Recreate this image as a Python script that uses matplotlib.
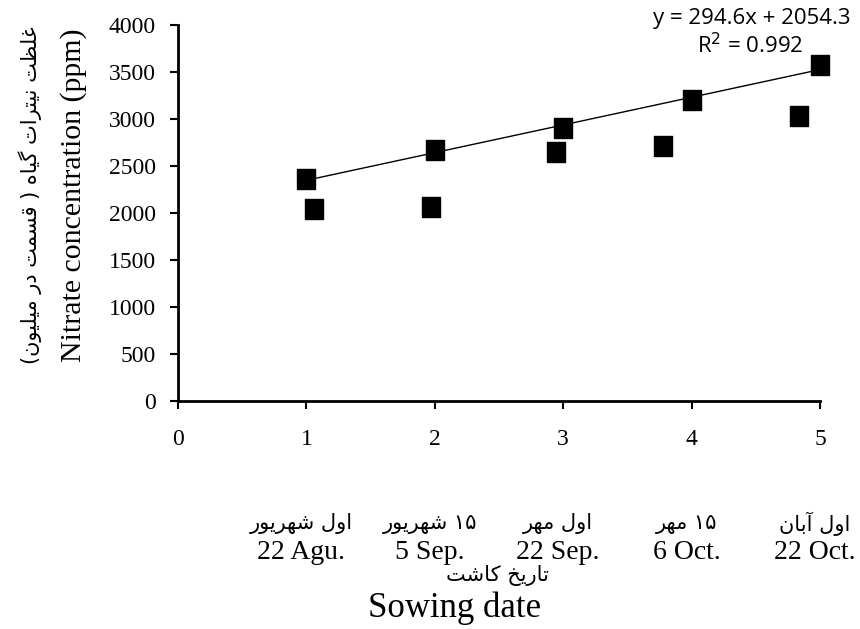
import re
import matplotlib
matplotlib.use("Agg")
import matplotlib.pyplot as plt
import matplotlib.transforms as mtransforms

# Data
sowing_index = [1, 2, 3, 4, 5]
nitrate_fit = [2360, 2670, 2910, 3200, 3580]          # points on the trend line
other_x = [1.06, 1.97, 2.94, 3.78, 4.84]
other_nitrate = [2045, 2065, 2645, 2715, 3030]

slope = 294.6
intercept = 2054.3
eq_text = "y = 294.6x + 2054.3"
r2_text = "R$^2$ = 0.992"

fa_dates = ["اول شهریور", "۱۵ شهریور", "اول مهر", "۱۵ مهر", "اول آبان"]
en_dates = ["22 Agu.", "5 Sep.", "22 Sep.", "6 Oct.", "22 Oct."]
fa_xlabel = "تاریخ کاشت"
en_xlabel = "Sowing date"
fa_ylabel = "غلظت نیترات گیاه ( قسمت در میلیون)"
en_ylabel = "Nitrate concentration (ppm)"


# Minimal Persian shaping: (isolated, final, initial, medial)
FORMS = {
    "ا": ("\uFE8D", "\uFE8E", None, None),
    "آ": ("\uFE81", "\uFE82", None, None),
    "ب": ("\uFE8F", "\uFE90", "\uFE91", "\uFE92"),
    "ت": ("\uFE95", "\uFE96", "\uFE97", "\uFE98"),
    "خ": ("\uFEA5", "\uFEA6", "\uFEA7", "\uFEA8"),
    "د": ("\uFEA9", "\uFEAA", None, None),
    "ر": ("\uFEAD", "\uFEAE", None, None),
    "س": ("\uFEB1", "\uFEB2", "\uFEB3", "\uFEB4"),
    "ش": ("\uFEB5", "\uFEB6", "\uFEB7", "\uFEB8"),
    "ظ": ("\uFEC5", "\uFEC6", "\uFEC7", "\uFEC8"),
    "غ": ("\uFECD", "\uFECE", "\uFECF", "\uFED0"),
    "ق": ("\uFED5", "\uFED6", "\uFED7", "\uFED8"),
    "ک": ("\uFB8E", "\uFB8F", "\uFB90", "\uFB91"),
    "گ": ("\uFB92", "\uFB93", "\uFB94", "\uFB95"),
    "ل": ("\uFEDD", "\uFEDE", "\uFEDF", "\uFEE0"),
    "م": ("\uFEE1", "\uFEE2", "\uFEE3", "\uFEE4"),
    "ن": ("\uFEE5", "\uFEE6", "\uFEE7", "\uFEE8"),
    "و": ("\uFEED", "\uFEEE", None, None),
    "ه": ("\uFEE9", "\uFEEA", "\uFEEB", "\uFEEC"),
    "ی": ("\uFBFC", "\uFBFD", "\uFBFE", "\uFBFF"),
}


def shape_fa(text):
    out = []
    for i, ch in enumerate(text):
        if ch not in FORMS:
            out.append(ch)
            continue
        prev = text[i - 1] if i > 0 else ""
        nxt = text[i + 1] if i + 1 < len(text) else ""
        join_prev = prev in FORMS and FORMS[prev][2] is not None
        join_next = nxt in FORMS and FORMS[ch][2] is not None
        f = FORMS[ch]
        if join_prev and join_next:
            out.append(f[3])
        elif join_prev:
            out.append(f[1])
        elif join_next:
            out.append(f[2])
        else:
            out.append(f[0])
    vis = "".join(reversed(out)).translate(str.maketrans("()", ")("))
    # numbers stay left-to-right
    return re.sub("[۰-۹]+", lambda m: m.group(0)[::-1], vis)


serif = "Liberation Serif"
fa_font = ["DejaVu Sans"]
square = [(-0.85, -1), (0.85, -1), (0.85, 1), (-0.85, 1), (-0.85, -1)]

fig = plt.figure(figsize=(8.6, 6.29), dpi=100)
ax = fig.add_axes([0.207, 0.3625, 0.7465, 0.5975])

ax.plot([sowing_index[0], sowing_index[-1]],
        [slope * sowing_index[0] + intercept, slope * sowing_index[-1] + intercept],
        color="black", linewidth=1)
ax.plot(sowing_index, nitrate_fit, linestyle="none", marker=square, color="black",
        markersize=14.5, clip_on=False)
ax.plot(other_x, other_nitrate, linestyle="none", marker=square, color="black",
        markersize=14.5, clip_on=False)

ax.set_xlim(0, 5)
ax.set_ylim(0, 4000)
ax.set_xticks(range(0, 6))
ax.set_yticks(range(0, 4001, 500))
for side in ["top", "right"]:
    ax.spines[side].set_visible(False)
for side in ["left", "bottom"]:
    ax.spines[side].set_linewidth(2)
ax.tick_params(direction="out", length=6, width=1.5, labelsize=17)
ax.tick_params(axis="x", pad=14)
ax.tick_params(axis="y", pad=10)
for lab in ax.get_xticklabels() + ax.get_yticklabels():
    lab.set_fontfamily(serif)

ax.set_ylabel(en_ylabel, fontfamily=serif, fontsize=21.5)
ax.yaxis.set_label_coords(-0.142, 0.548)
fig.text(0.035, 0.69, shape_fa(fa_ylabel), rotation=90, ha="center", va="center",
         family=fa_font, fontsize=15)

# two-line date labels under each tick
trans = mtransforms.blended_transform_factory(ax.transData, fig.transFigure)
for x, fa, en in zip(sowing_index, fa_dates, en_dates):
    ax.text(x - 0.04, 0.167, shape_fa(fa), transform=trans, ha="center", va="center",
            family=fa_font, fontsize=15)
    ax.text(x - 0.04, 0.121, en, transform=trans, ha="center", va="center",
            fontfamily=serif, fontsize=20)

fig.text(0.578, 0.085, shape_fa(fa_xlabel), ha="center", va="center",
         family=fa_font, fontsize=15)
fig.text(0.529, 0.033, en_xlabel, ha="center", va="center",
         fontfamily=serif, fontsize=25)

fig.text(0.874, 0.971, eq_text, ha="center", va="center", fontfamily="Open Sans", fontsize=16)
fig.text(0.872, 0.928, r2_text, ha="center", va="center", fontfamily="Open Sans", fontsize=16)

fig.savefig("out.png", dpi=100)
